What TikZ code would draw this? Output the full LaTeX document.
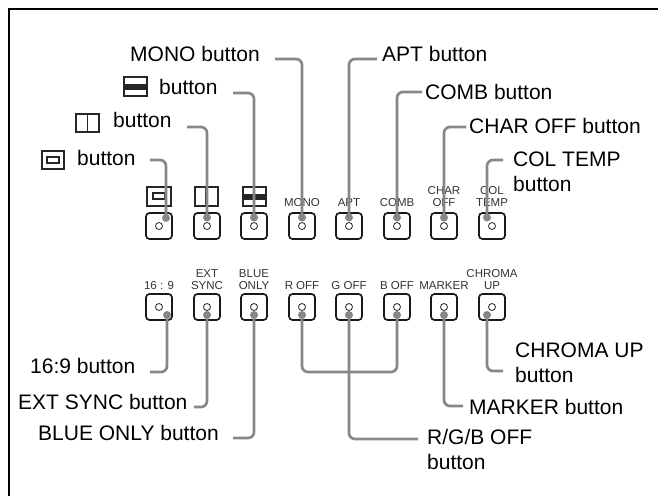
\documentclass[tikz,border=0pt]{standalone}
\usepackage{fontspec}
\setmainfont{Liberation Sans}
\definecolor{leadgray}{gray}{0.53}
\definecolor{capgray}{gray}{0.2}
\begin{document}
\begin{tikzpicture}[x=1pt,y=-1pt,
  btn/.style={draw=black!90,line width=1.7pt,rounded corners=3.5pt,minimum size=26pt,inner sep=0pt,outer sep=0pt},
  led/.style={draw=black!85,line width=0.8pt,circle,minimum size=7pt,inner sep=0pt},
  dotn/.style={circle,fill=leadgray,minimum size=8pt,inner sep=0pt},
  lead/.style={draw=leadgray,line width=2.7pt,rounded corners=6pt},
  lab/.style={font=\fontsize{21pt}{24.5pt}\selectfont,text=black,inner sep=0pt,align=left,anchor=west},
  capt/.style={font=\fontsize{11.5pt}{12.5pt}\selectfont,text=capgray,inner sep=0pt,align=center,anchor=base},
  ico/.style={draw=black!85,line width=1.1pt}]
\useasboundingbox (0,0) rectangle (658,496);
\draw[line width=1.7pt] (9,496) -- (9,9) -- (658,9);
% icons above the buttons
\draw[ico] (147,187) rectangle (171,206);
\draw[ico] (153,193) rectangle (165,199);
\draw[ico] (195,187) rectangle (218,206);
\draw[ico] (205.5,187) -- (205.5,206);
\draw[ico] (243,187) rectangle (266,206);
\fill[black!85] (243,193.5) rectangle (266,199.5);
% captions
\node[capt] at (302,206.5) {MONO};
\node[capt] at (349,206.5) {APT};
\node[capt] at (397,206.5) {COMB};
\node[capt] at (444,206.5) {CHAR\\OFF};
\node[capt] at (492,206.5) {COL\\TEMP};
\node[capt] at (159,289.5) {16 : 9};
\node[capt] at (207,289.5) {EXT\\SYNC};
\node[capt] at (254,289.5) {BLUE\\ONLY};
\node[capt] at (302,289.5) {R OFF};
\node[capt] at (349,289.5) {G OFF};
\node[capt] at (397,289.5) {B OFF};
\node[capt] at (444,289.5) {MARKER};
\node[capt] at (492,289.5) {CHROMA\\UP};
% buttons
\foreach \n/\x in {a/159,b/207,c/254,d/302,e/349,f/397,g/444,h/492}{
  \node[btn] (t\n) at (\x,226) {};
  \node[led] (tl\n) at (\x,226) {};
  \node[btn] (b\n) at (\x,307) {};
  \node[led] (bl\n) at (\x,307) {};
}
% dots
\foreach \n/\x in {b/207,c/254,d/302,e/349,f/397,g/444}{
  \node[dotn] (td\n) at (\x,217.5) {};
}
\node[dotn] (tda) at (166,218) {};
\node[dotn] (tdh) at (487,217.5) {};
\foreach \n/\x in {b/207,c/254,d/302,e/349,f/397,g/444}{
  \node[dotn] (bd\n) at (\x,315) {};
}
\node[dotn] (bda) at (167,315) {};
\node[dotn] (bdh) at (487,315) {};
% labels
\draw[ico] (42,151) rectangle (64,169);
\draw[ico] (47,157) rectangle (59,163);
\node[lab] (la) at (77,158) {button};
\draw[ico] (76,114) rectangle (99,132);
\draw[ico] (87.5,114) -- (87.5,132);
\node[lab] (lb) at (113,120) {button};
\draw[ico] (124,77) rectangle (147,96);
\fill[black!85] (124,84) rectangle (147,90);
\node[lab] (lc) at (159,87) {button};
\node[lab] (ld) at (130,54) {MONO button};
\node[lab] (le) at (382,54) {APT button};
\node[lab] (lf) at (425,92) {COMB button};
\node[lab] (lg) at (469,126) {CHAR OFF button};
\node[lab] (lh) at (513,172) {COL TEMP\\button};
\node[lab] (li) at (30,366) {16:9 button};
\node[lab] (lj) at (18,402) {EXT SYNC button};
\node[lab] (lk) at (38,433) {BLUE ONLY button};
\node[lab] (ll) at (469,407) {MARKER button};
\node[lab] (lm) at (515,363) {CHROMA UP\\button};
\node[lab] (ln) at (427,449.5) {R/G/B OFF\\button};
% free ends
\coordinate (ca) at (150,160);
\coordinate (cb) at (187,127);
\coordinate (cc) at (233,93);
\coordinate (cd) at (275,59);
\coordinate (ce) at (377,59);
\coordinate (cf) at (422,92);
\coordinate (cg) at (466,127);
\coordinate (ch) at (503,160);
\coordinate (ci) at (150,372);
\coordinate (cj) at (194,407);
\coordinate (ck) at (233,438);
\coordinate (cl) at (463,406);
\coordinate (cm) at (503,371);
\coordinate (cn) at (418,439);
\coordinate (cx) at (349,372);
% connectors
\draw[lead] (tda.center) |- (ca);
\draw[lead] (tdb.center) |- (cb);
\draw[lead] (tdc.center) |- (cc);
\draw[lead] (tdd.center) |- (cd);
\draw[lead] (tde.center) |- (ce);
\draw[lead] (tdf.center) |- (cf);
\draw[lead] (tdg.center) |- (cg);
\draw[lead] (tdh.center) |- (ch);
\draw[lead] (bda.center) |- (ci);
\draw[lead] (bdb.center) |- (cj);
\draw[lead] (bdc.center) |- (ck);
\draw[lead] (bdd.center) |- (cx) -| (bdf.center);
\draw[lead] (bde.center) |- (cn);
\draw[lead] (bdg.center) |- (cl);
\draw[lead] (bdh.center) |- (cm);
\end{tikzpicture}
\end{document}
